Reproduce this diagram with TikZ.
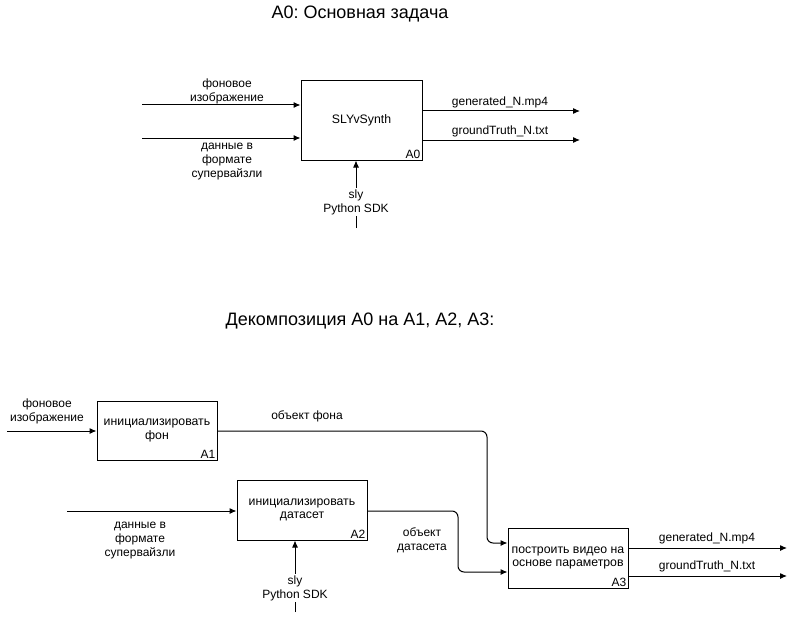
\documentclass[tikz,border=0pt]{standalone}
\usepackage{fontspec}
\setmainfont{Liberation Sans}
\usepackage{tikz}
\usetikzlibrary{positioning}
\usetikzlibrary{arrows.meta}
\frenchspacing

\begin{document}
\begin{tikzpicture}[x=1pt,y=-1pt]
% параметры
\tikzstyle boitebloc=[draw=black,line width=1pt,align=center,inner sep=0pt,font=\fontsize{12.3}{13.5}\selectfont]
\tikzstyle flechebloc=[draw=black,line width=1pt,-{Latex[length=7pt,width=6pt]},rounded corners=6pt]
\tikzstyle textebloc=[align=center,inner sep=1pt,font=\fontsize{12}{14}\selectfont]
\tikzstyle numbloc=[anchor=south east,inner sep=2pt,font=\fontsize{12}{14}\selectfont]
\tikzstyle titrebloc=[font=\fontsize{18}{20}\selectfont]
\newcommand{\sortiex}{580} % конец выходов A0
\newcommand{\sortiexx}{787} % конец выходов A3
\useasboundingbox (0,0) rectangle (796,618);
% заголовки
\node[titrebloc] (titre1) at (360,14) {A0: Основная задача};
\node[titrebloc] (titre2) at (360,321) {Декомпозиция A0 на A1, A2, A3:};
% блок A0
\node[boitebloc,minimum width=121pt,minimum height=79pt] (a0) at (361.5,120.5) {SLYvSynth};
\node[numbloc] (na0) at (a0.south east) {A0};
\coordinate (e1) at (142,105);
\coordinate (e2) at (142,138);
\coordinate (c0) at (356,228);
\coordinate (s1) at (\sortiex,111);
\coordinate (s2) at (\sortiex,140);
\draw[flechebloc] (e1) -- (e1 -| a0.west);
\draw[flechebloc] (e2) -- (e2 -| a0.west);
\draw[flechebloc] (c0) -- (c0 |- a0.south);
\draw[flechebloc] (s1 -| a0.east) -- (s1);
\draw[flechebloc] (s2 -| a0.east) -- (s2);
\node[textebloc] (le1) at (227,91) {фоновое\\изображение};
\node[textebloc] (le2) at (227,162) {данные в\\формате\\супервайзли};
\node[textebloc,fill=white] (lc0) at (356,202) {sly\\Python SDK};
\node[textebloc] (ls1) at (500,102) {generated\_N.mp4};
\node[textebloc] (ls2) at (500,131) {groundTruth\_N.txt};
% декомпозиция
\node[boitebloc,minimum width=120pt,minimum height=59pt] (a1) at (157,430.5) {инициализировать\\фон};
\node[boitebloc,minimum width=130pt,minimum height=60pt] (a2) at (302,510) {инициализировать\\датасет};
\node[boitebloc,minimum width=120pt,minimum height=60pt] (a3) at (568,558) {построить видео на\\основе параметров};
\node[numbloc] (na1) at (a1.south east) {A1};
\node[numbloc] (na2) at (a2.south east) {A2};
\node[numbloc] (na3) at (a3.south east) {A3};
\coordinate (f1) at (7,431);
\coordinate (f2) at (67,511);
\coordinate (c2) at (295,612);
\coordinate (t1) at (\sortiexx,548);
\coordinate (t2) at (\sortiexx,576);
\draw[flechebloc] (f1) -- (f1 -| a1.west);
\draw[flechebloc] (f2) -- (f2 -| a2.west);
\draw[flechebloc] (c2) -- (c2 |- a2.south);
% стрелки к A3
\draw[flechebloc] (a1.east |- f1) -- (487,431) -- (487,543) -- (a3.west |- 0,543);
\draw[flechebloc] (a2.east |- f2) -- (458,511) -- (458,572) -- (a3.west |- 0,572);
\draw[flechebloc] (t1 -| a3.east) -- (t1);
\draw[flechebloc] (t2 -| a3.east) -- (t2);
\node[textebloc] (lf1) at (47,411) {фоновое\\изображение};
\node[textebloc] (lf2) at (140,541) {данные в\\формате\\супервайзли};
\node[textebloc,fill=white] (lc2) at (295,588) {sly\\Python SDK};
\node[textebloc] (lo1) at (307,416) {объект фона};
\node[textebloc] (lo2) at (422,540) {объект\\датасета};
\node[textebloc] (lt1) at (707,538) {generated\_N.mp4};
\node[textebloc] (lt2) at (707,566) {groundTruth\_N.txt};
\end{tikzpicture}
\end{document}
